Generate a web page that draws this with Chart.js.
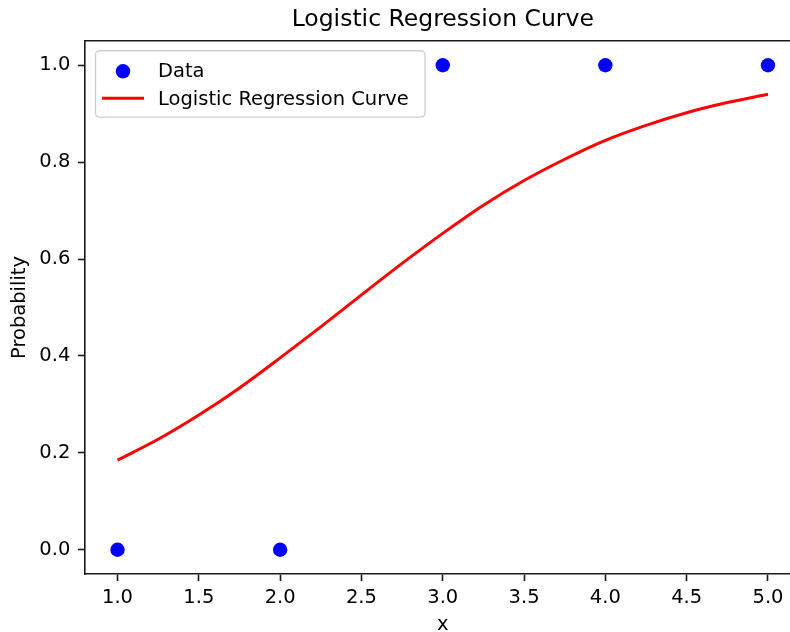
<!DOCTYPE html>
<html>
<head>
<meta charset="utf-8">
<script src="https://cdn.jsdelivr.net/npm/chart.js@4/dist/chart.umd.min.js"></script>
<style>
html,body{margin:0;padding:0;overflow:hidden;background:#fff;width:790px;height:632px}
#wrap{width:810px;height:632px;position:relative}
canvas{display:block}
</style>
</head>
<body>
<div id="wrap"><canvas id="c" width="810" height="632"></canvas></div>
<script>
// ---- data ----
const dataX = [1, 2, 3, 4, 5];
const dataY = [0, 0, 1, 1, 1];
const curveX = [1.0, 1.25, 1.5, 1.75, 2.0, 2.25, 2.5, 2.75, 3.0, 3.25, 3.5, 3.75, 4.0, 4.25, 4.5, 4.75, 5.0];
const curveY = [0.185, 0.228, 0.278, 0.334, 0.396, 0.460, 0.526, 0.591, 0.653, 0.711, 0.762, 0.806, 0.845, 0.876, 0.902, 0.923, 0.940];
const xTicks = [1.0, 1.5, 2.0, 2.5, 3.0, 3.5, 4.0, 4.5, 5.0];
const yTicks = [0.0, 0.2, 0.4, 0.6, 0.8, 1.0];
const titleText = 'Logistic Regression Curve';
const xLabel = 'x';
const yLabel = 'Probability';
const seriesNames = ['Data', 'Logistic Regression Curve'];

Chart.defaults.font.family = "'DejaVu Sans', sans-serif";
Chart.defaults.color = '#000';

const FS = 19.5;
const AX = '#1a1a1a';

const legendPlugin = {
  id: 'mplLegend',
  afterDatasetsDraw(chart) {
    const {ctx, chartArea: a} = chart;
    const x0 = a.left + 10.5, y0 = a.top + 9.8, w = 329.5, h = 66.3, r = 4;
    ctx.save();
    ctx.beginPath();
    ctx.moveTo(x0 + r, y0);
    ctx.lineTo(x0 + w - r, y0);
    ctx.arcTo(x0 + w, y0, x0 + w, y0 + r, r);
    ctx.lineTo(x0 + w, y0 + h - r);
    ctx.arcTo(x0 + w, y0 + h, x0 + w - r, y0 + h, r);
    ctx.lineTo(x0 + r, y0 + h);
    ctx.arcTo(x0, y0 + h, x0, y0 + h - r, r);
    ctx.lineTo(x0, y0 + r);
    ctx.arcTo(x0, y0, x0 + r, y0, r);
    ctx.closePath();
    ctx.fillStyle = 'rgba(255,255,255,0.8)';
    ctx.fill();
    ctx.strokeStyle = '#d0d0d0';
    ctx.lineWidth = 1.4;
    ctx.stroke();

    const ds = chart.data.datasets;
    // scatter marker
    ctx.beginPath();
    ctx.arc(x0 + 27.5, y0 + 20.5, ds[0].pointRadius, 0, Math.PI * 2);
    ctx.fillStyle = ds[0].backgroundColor;
    ctx.fill();
    // line sample
    ctx.beginPath();
    ctx.moveTo(x0 + 6.5, y0 + 47.5);
    ctx.lineTo(x0 + 48.5, y0 + 47.5);
    ctx.strokeStyle = ds[1].borderColor;
    ctx.lineWidth = ds[1].borderWidth;
    ctx.stroke();
    // texts
    ctx.fillStyle = '#000';
    ctx.font = FS + "px 'DejaVu Sans'";
    ctx.textBaseline = 'alphabetic';
    ctx.textAlign = 'left';
    ctx.fillText(ds[0].label, x0 + 62.5, y0 + 26.3);
    ctx.fillText(ds[1].label, x0 + 62.5, y0 + 54.6);
    ctx.restore();
  }
};

new Chart(document.getElementById('c'), {
  data: {
    datasets: [
      {
        type: 'scatter',
        label: seriesNames[0],
        data: dataX.map((x, i) => ({x, y: dataY[i]})),
        backgroundColor: '#0000ff',
        borderColor: '#0000ff',
        borderWidth: 0,
        pointRadius: 7.2,
        pointHoverRadius: 7.2
      },
      {
        type: 'line',
        label: seriesNames[1],
        data: curveX.map((x, i) => ({x, y: curveY[i]})),
        borderColor: '#ff0000',
        backgroundColor: '#ff0000',
        borderWidth: 3,
        pointRadius: 0,
        fill: false,
        cubicInterpolationMode: 'monotone'
      }
    ]
  },
  options: {
    responsive: false,
    animation: false,
    devicePixelRatio: 1,
    events: [],
    layout: {padding: {left: 0, top: 0, right: 9.5, bottom: 0}},
    plugins: {legend: {display: false}, title: {display: false}, tooltip: {enabled: false}},
    scales: {
      x: {
        type: 'linear', position: 'bottom', min: 0.8, max: 5.2,
        afterBuildTicks: s => { s.ticks = xTicks.map(v => ({value: v})); },
        afterFit: s => { s.height = 58; },
        ticks: {callback: v => Number(v).toFixed(1), padding: 5, color: '#000', font: {size: FS}, maxRotation: 0, autoSkip: false},
        grid: {drawOnChartArea: false, drawTicks: true, tickLength: 7, tickColor: AX, tickWidth: 1.6},
        border: {display: true, color: AX, width: 1.6},
        title: {display: true, text: xLabel, color: '#000', font: {size: FS, lineHeight: 0.7}, padding: {top: 0, bottom: 0.2}}
      },
      xTop: {
        type: 'linear', position: 'top', min: 0.8, max: 5.2,
        afterFit: s => { s.height = 41; },
        ticks: {display: false},
        grid: {display: false, drawTicks: false},
        border: {display: true, color: AX, width: 1.6},
        title: {display: true, text: titleText, color: '#000', font: {size: 23.5, lineHeight: 1.2}, padding: {top: 5.9, bottom: 0}}
      },
      y: {
        type: 'linear', position: 'left', min: -0.05, max: 1.05,
        afterBuildTicks: s => { s.ticks = yTicks.map(v => ({value: v})); },
        afterFit: s => { s.width = 85; },
        ticks: {callback: v => Number(v).toFixed(1), padding: 7.7, color: '#000', font: {size: FS}, autoSkip: false},
        grid: {drawOnChartArea: false, drawTicks: true, tickLength: 7, tickColor: AX, tickWidth: 1.6},
        border: {display: true, color: AX, width: 1.6},
        title: {display: true, text: yLabel, color: '#000', font: {size: FS, lineHeight: 1.2}, padding: {top: 8.3, bottom: 0}}
      }
    }
  },
  plugins: [legendPlugin]
});
</script>
</body>
</html>
